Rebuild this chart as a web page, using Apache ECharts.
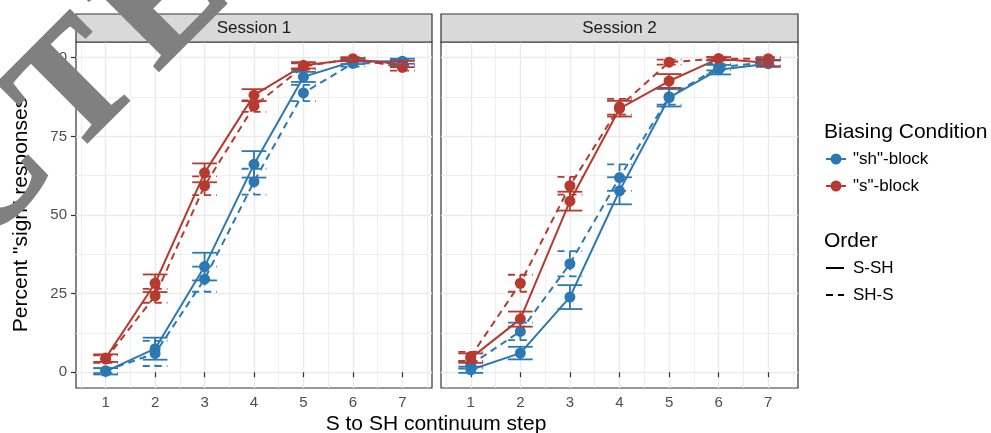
<!DOCTYPE html>
<html>
<head>
<meta charset="utf-8">
<script src="https://cdn.jsdelivr.net/npm/echarts@6/dist/echarts.min.js"></script>
<style>
  html, body { margin: 0; padding: 0; background: #fff; }
  #chart { width: 991px; height: 433px; }
</style>
</head>
<body>
<div id="chart"></div>
<script>
// categories / ticks
const steps = [1, 2, 3, 4, 5, 6, 7];
const minorX = [0.5, 1.5, 2.5, 3.5, 4.5, 5.5, 6.5, 7.5];
const yTicks = [0, 25, 50, 75, 100];
const minorY = [12.5, 37.5, 62.5, 87.5];
const sessions = ['Session 1', 'Session 2'];
const conditions = ['"sh"-block', '"s"-block'];
const orders = ['S-SH', 'SH-S'];

// Session 1: mean percent and error half-width
const s1ShSolid = [0.3, 7.5, 33.6, 66.1, 93.9, 98.8, 98.9];
const s1ShSolidErr = [1.0, 3.5, 4.4, 4.2, 1.6, 0.8, 0.8];
const s1ShDashed = [0.5, 6.0, 29.6, 60.6, 88.8, 98.2, 98.4];
const s1ShDashedErr = [0.8, 4.0, 4.0, 4.1, 2.6, 1.0, 1.0];
const s1SSolid = [4.5, 28.3, 63.4, 88.1, 97.6, 99.4, 98.0];
const s1SSolidErr = [1.2, 2.8, 3.0, 1.9, 1.0, 0.5, 1.0];
const s1SDashed = [4.2, 24.3, 59.3, 84.6, 97.2, 99.7, 96.9];
const s1SDashedErr = [1.2, 2.2, 3.0, 1.8, 1.0, 0.5, 1.0];

// Session 2
const s2ShSolid = [0.8, 6.1, 23.9, 57.7, 87.3, 96.2, 98.1];
const s2ShSolidErr = [1.0, 2.0, 3.8, 4.3, 2.8, 1.5, 1.0];
const s2ShDashed = [2.4, 13.0, 34.5, 61.9, 87.6, 97.0, 98.6];
const s2ShDashedErr = [1.2, 2.8, 4.0, 4.2, 2.5, 1.0, 1.0];
const s2SSolid = [4.5, 16.9, 54.4, 83.8, 92.6, 99.7, 98.3];
const s2SSolidErr = [1.5, 2.4, 3.0, 2.5, 2.2, 0.5, 1.0];
const s2SDashed = [5.0, 28.3, 59.3, 84.4, 98.6, 99.7, 99.7];
const s2SDashedErr = [1.5, 2.7, 2.8, 2.5, 0.8, 0.5, 0.5];

const groups = [
  { session: 0, cond: 0, order: 0, mean: s1ShSolid, err: s1ShSolidErr },
  { session: 0, cond: 0, order: 1, mean: s1ShDashed, err: s1ShDashedErr },
  { session: 0, cond: 1, order: 0, mean: s1SSolid, err: s1SSolidErr },
  { session: 0, cond: 1, order: 1, mean: s1SDashed, err: s1SDashedErr },
  { session: 1, cond: 0, order: 0, mean: s2ShSolid, err: s2ShSolidErr },
  { session: 1, cond: 0, order: 1, mean: s2ShDashed, err: s2ShDashedErr },
  { session: 1, cond: 1, order: 0, mean: s2SSolid, err: s2SSolidErr },
  { session: 1, cond: 1, order: 1, mean: s2SDashed, err: s2SDashedErr }
];

const colors = ['#2C78B2', '#B63A2F'];
const dash = [7, 5];
const font = '"Liberation Sans", Arial, sans-serif';
const capHalf = 0.25;

const panels = [
  { left: 76, width: 356 },
  { left: 441, width: 357 }
];
const panelTop = 42, panelHeight = 346, stripTop = 14;

const grids = panels.map(p => ({
  left: p.left, top: panelTop, width: p.width, height: panelHeight,
  show: true, backgroundColor: '#fff', borderColor: '#333', borderWidth: 1.2,
  outerBoundsMode: 'none'
}));

const xAxes = [];
const yAxes = [];
panels.forEach((p, g) => {
  xAxes.push({
    type: 'value', gridIndex: g, min: 0.4, max: 7.6, position: 'bottom',
    axisLine: { show: false },
    axisTick: { show: true, length: 5, customValues: steps, lineStyle: { color: '#333', width: 1.2 } },
    axisLabel: { customValues: steps, color: '#4D4D4D', fontSize: 15, fontFamily: font, margin: 7 },
    splitLine: { show: true, lineStyle: { color: '#EBEBEB', width: 1.4 } }
  });
  xAxes.push({
    type: 'value', gridIndex: g, min: 0.4, max: 7.6, position: 'top',
    axisLine: { show: false },
    axisTick: { show: false, customValues: minorX },
    axisLabel: { show: false, customValues: minorX },
    splitLine: { show: true, lineStyle: { color: '#EBEBEB', width: 0.8 } }
  });
  yAxes.push({
    type: 'value', gridIndex: g, min: -5, max: 105, position: 'left',
    axisLine: { show: false },
    axisTick: { show: g === 0, length: 5, customValues: yTicks, lineStyle: { color: '#333', width: 1.2 } },
    axisLabel: { show: g === 0, customValues: yTicks, color: '#4D4D4D', fontSize: 15, fontFamily: font, margin: 9 },
    splitLine: { show: true, lineStyle: { color: '#EBEBEB', width: 1.4 } }
  });
  yAxes.push({
    type: 'value', gridIndex: g, min: -5, max: 105, position: 'right',
    axisLine: { show: false },
    axisTick: { show: false, customValues: minorY },
    axisLabel: { show: false, customValues: minorY },
    splitLine: { show: true, lineStyle: { color: '#EBEBEB', width: 0.8 } }
  });
});

function errorBarRenderer(color, lineDash) {
  return function (params, api) {
    const x = api.value(0);
    const hi = api.coord([x, api.value(2)]);
    const lo = api.coord([x, api.value(1)]);
    const l = api.coord([x - capHalf, api.value(2)])[0];
    const r = api.coord([x + capHalf, api.value(2)])[0];
    const style = { stroke: color, lineWidth: 1.8, lineDash: lineDash, fill: null };
    return {
      type: 'group',
      children: [
        { type: 'line', shape: { x1: hi[0], y1: hi[1], x2: lo[0], y2: lo[1] }, style: style },
        { type: 'line', shape: { x1: l, y1: hi[1], x2: r, y2: hi[1] }, style: style },
        { type: 'line', shape: { x1: l, y1: lo[1], x2: r, y2: lo[1] }, style: style }
      ]
    };
  };
}

const series = [];
groups.forEach(gr => {
  const color = colors[gr.cond];
  const lineDash = gr.order === 1 ? dash : null;
  series.push({
    type: 'line',
    name: conditions[gr.cond] + ' ' + orders[gr.order],
    xAxisIndex: gr.session * 2, yAxisIndex: gr.session * 2,
    data: steps.map((s, i) => [s, gr.mean[i]]),
    symbol: 'circle', symbolSize: 11, showSymbol: true,
    itemStyle: { color: color },
    lineStyle: { color: color, width: 2, type: gr.order === 1 ? dash : 'solid' },
    z: 3, silent: true
  });
  series.push({
    type: 'custom',
    xAxisIndex: gr.session * 2, yAxisIndex: gr.session * 2,
    data: steps.map((s, i) => [s, gr.mean[i] - gr.err[i], gr.mean[i] + gr.err[i]]),
    encode: { x: 0, y: [1, 2] },
    renderItem: errorBarRenderer(color, lineDash),
    z: 4, silent: true
  });
});

const graphic = [];
panels.forEach((p, g) => {
  graphic.push({
    type: 'rect', shape: { x: p.left, y: stripTop, width: p.width, height: panelTop - stripTop },
    style: { fill: '#D9D9D9', stroke: '#333', lineWidth: 1.2 }, z: 10
  });
  graphic.push({
    type: 'text', x: p.left + p.width / 2, y: (stripTop + panelTop) / 2 + 0.5,
    style: { text: sessions[g], font: '17px ' + font, fill: '#1A1A1A', align: 'center', verticalAlign: 'middle' }, z: 11
  });
});
// axis titles
graphic.push({
  type: 'text', x: 436, y: 424,
  style: { text: 'S to SH continuum step', font: '21px ' + font, fill: '#000', align: 'center', verticalAlign: 'middle' }, z: 11
});
graphic.push({
  type: 'text', x: 21, y: 215, rotation: Math.PI / 2,
  style: { text: 'Percent "sign" responses', font: '21px ' + font, fill: '#000', align: 'center', verticalAlign: 'middle' }, z: 11
});
// legend: Biasing Condition
graphic.push({
  type: 'text', x: 824, y: 132,
  style: { text: 'Biasing Condition', font: '21px ' + font, fill: '#000', align: 'left', verticalAlign: 'middle' }, z: 11
});
[159, 186].forEach((y, i) => {
  graphic.push({ type: 'line', shape: { x1: 826, y1: y, x2: 846, y2: y }, style: { stroke: colors[i], lineWidth: 2 }, z: 11 });
  graphic.push({ type: 'circle', shape: { cx: 836, cy: y, r: 5.5 }, style: { fill: colors[i] }, z: 12 });
  graphic.push({
    type: 'text', x: 853, y: y,
    style: { text: conditions[i], font: '17px ' + font, fill: '#000', align: 'left', verticalAlign: 'middle' }, z: 11
  });
});
// legend: Order
graphic.push({
  type: 'text', x: 824, y: 241,
  style: { text: 'Order', font: '21px ' + font, fill: '#000', align: 'left', verticalAlign: 'middle' }, z: 11
});
[268, 295].forEach((y, i) => {
  graphic.push({
    type: 'line', shape: { x1: 826, y1: y, x2: 844, y2: y },
    style: { stroke: '#000', lineWidth: 2, lineDash: i === 1 ? dash : null }, z: 11
  });
  graphic.push({
    type: 'text', x: 853, y: y,
    style: { text: orders[i], font: '17px ' + font, fill: '#000', align: 'left', verticalAlign: 'middle' }, z: 11
  });
});

// diagonal stamp over the top-left corner, letters laid along a rotated baseline
const stampLetters = 'RETRACTED'.split('');
const stampAdv = [0.722, 0.667, 0.667, 0.722, 0.722, 0.722, 0.667, 0.667, 0.722];
const stampSize = 160, stampGap = 16, stampAnchor = 6;
const stampCenters = [];
let run = 0;
stampAdv.forEach((a, i) => {
  stampCenters.push(run + a * stampSize / 2);
  run += a * stampSize + stampGap;
});
const stampShift = stampCenters[stampAnchor];
graphic.push({
  type: 'group', x: 106, y: 119, rotation: Math.PI / 4, z: 100, silent: true,
  children: stampLetters.map((ch, i) => ({
    type: 'text', x: stampCenters[i] - stampShift, y: -0.24 * stampSize, z: 100,
    style: {
      text: ch, font: 'bold ' + stampSize + 'px "Liberation Serif", "DejaVu Serif", serif',
      fill: '#808080', stroke: '#808080', lineWidth: 3, align: 'center', verticalAlign: 'middle'
    }
  }))
});

const chart = echarts.init(document.getElementById('chart'), null, { renderer: 'canvas' });
chart.setOption({
  animation: false,
  backgroundColor: '#fff',
  grid: grids,
  xAxis: xAxes,
  yAxis: yAxes,
  series: series,
  graphic: graphic
});
</script>
</body>
</html>
